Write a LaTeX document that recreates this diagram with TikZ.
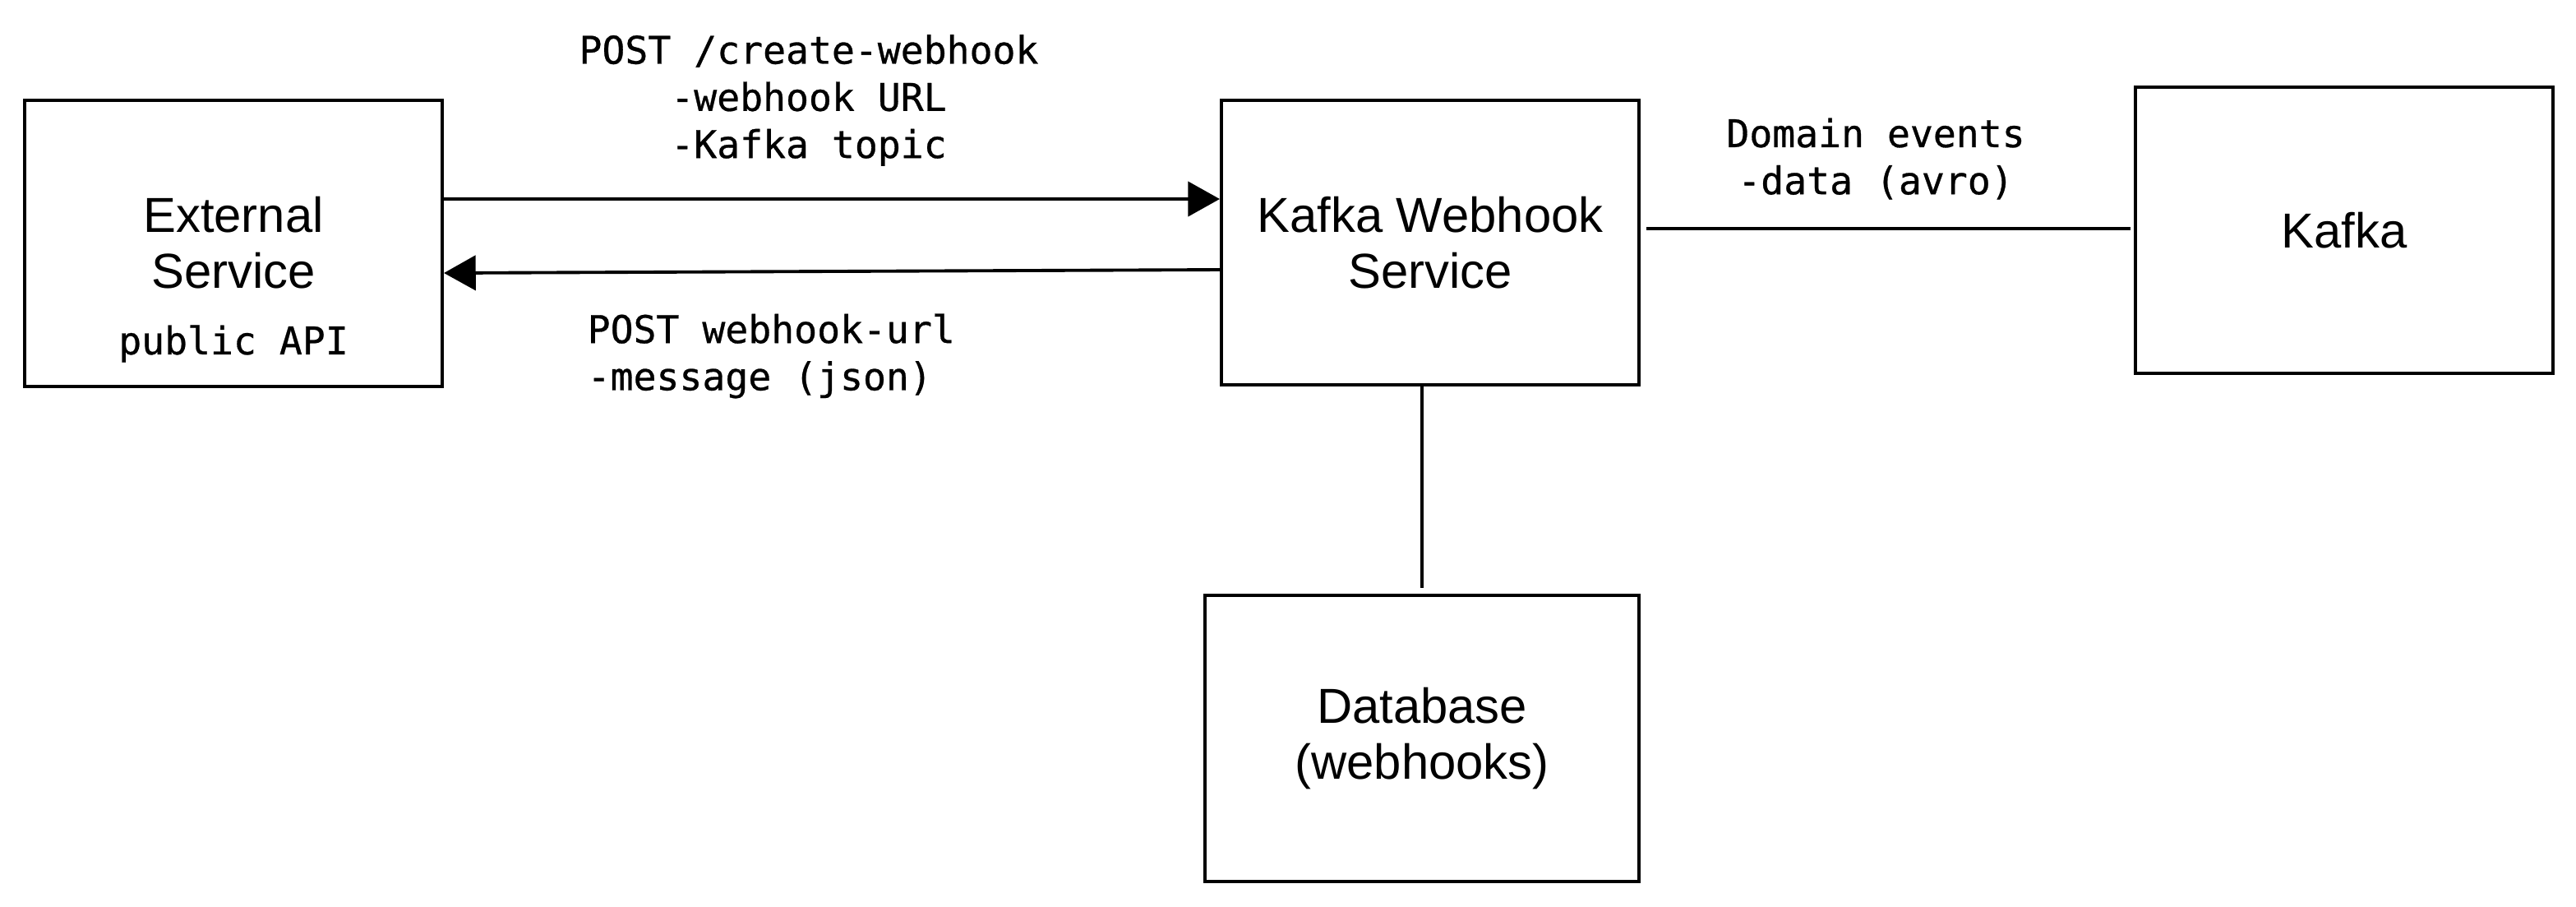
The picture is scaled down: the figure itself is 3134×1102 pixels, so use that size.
\documentclass[tikz,border=0pt]{standalone}
\usepackage{fontspec}
\setmainfont{Liberation Sans}
\setmonofont[FakeBold=0.6]{DejaVu Sans Mono}
\usetikzlibrary{arrows.meta}
\begin{document}
\begin{tikzpicture}[x=0.01cm,y=-0.01cm,
  box/.style={draw,line width=1.1pt,rectangle,inner sep=0pt,minimum width=#1,anchor=center},
  box/.default={508*0.2845pt},
  sanslbl/.style={font=\fontsize{17}{19.5}\selectfont,align=center,inner sep=0pt},
  monolbl/.style={font=\fontsize{13.2}{16.3}\selectfont\ttfamily,inner sep=0pt},
  conn/.style={line width=1.1pt},
  arr/.style={conn,-{Triangle[length=11pt,width=12pt]}}]
\useasboundingbox (0,0) rectangle (3134,1102);
% boxes
\node[box,minimum height=348*0.2845pt] (ext) at (284,296) {};
\node[box,minimum height=346*0.2845pt] (svc) at (1740,295) {};
\node[box,minimum height=348*0.2845pt] (kafka) at (2852,280) {};
\node[box=528*0.2845pt,minimum height=348*0.2845pt] (db) at (1730,898) {};
% box texts
\node[sanslbl] (extt) at (284,295) {External\\Service};
\node[monolbl] (extapi) at (284,418) {public API};
\node[sanslbl] (svct) at (1740,295) {Kafka Webhook\\Service};
\node[sanslbl] (kafkat) at (2852,280) {Kafka};
\node[sanslbl] (dbt) at (1730,898) {Database\\(webhooks)};
% connectors
\draw[arr] (ext.east |- 0,242) -- (svc.west |- 0,242);
\draw[arr] (svc.west |- 0,328) -- (ext.east |- 0,332);
\draw[conn] ([xshift=2pt]svc.east |- 0,278) -- ([xshift=-1pt]kafka.west |- 0,278);
\draw[line width=0.9pt] (svc.south -| db.north) -- ([yshift=2pt]db.north);
% connector labels
\node[monolbl,align=center] (l1) at (984,122) {POST /create-webhook\\-webhook URL\\-Kafka topic};
\node[monolbl,align=left,anchor=west] (l2) at (714,433) {POST webhook-url\\-message (json)};
\node[monolbl,align=center] (l3) at (2282,193) {Domain events\\-data (avro)};
\end{tikzpicture}
\end{document}
